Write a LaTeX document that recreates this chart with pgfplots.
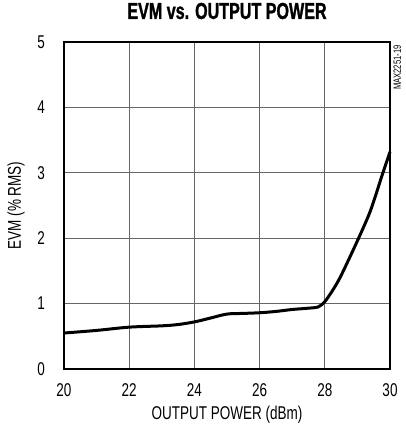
\documentclass[border=0pt]{standalone}
\usepackage{fontspec}
\setmainfont{Liberation Sans}[FakeStretch=0.73]
\newfontfamily\titlefont{Liberation Sans Bold}[FakeStretch=0.70, FakeBold=1.2]
\usepackage{pgfplots}
\pgfplotsset{compat=1.18}
\begin{document}
\begin{tikzpicture}[x=1pt,y=1pt]
\useasboundingbox (0,0) rectangle (405,431);
\begin{axis}[
  at={(64pt,62pt)}, anchor=south west,
  scale only axis, width=326pt, height=327pt,
  xmin=20, xmax=30, ymin=0, ymax=5,
  xtick={20,22,24,26,28,30}, ytick={0,1,2,3,4,5},
  grid=major,
  major grid style={black!60, line width=0.7pt},
  major tick length=0pt,
  axis line style={line width=2.4pt},
  tick label style={font=\fontsize{18.5}{22}\selectfont},
  /pgf/number format/assume math mode=true,
  xticklabel style={anchor=north, inner sep=0pt, yshift=-14pt},
  yticklabel style={anchor=east, inner sep=0pt, xshift=-19pt},
  xlabel={OUTPUT POWER (dBm)},
  ylabel={EVM (\% RMS)},
  label style={font=\fontsize{18.5}{22}\selectfont},
  xlabel style={at={(axis description cs:0.5,-0.1407)}, anchor=center},
  ylabel style={at={(axis description cs:-0.147,0.5)}, anchor=center},
  title={EVM vs. OUTPUT POWER},
  title style={at={(axis description cs:0.5,1)}, anchor=center, yshift=25pt, font=\titlefont\fontsize{23}{27}\selectfont},
  clip=false,
]
\addplot[black, line width=3pt, smooth, tension=0.5] coordinates {
  (20,0.55) (21,0.59) (22,0.64) (23,0.66) (23.5,0.68) (24,0.72) (24.5,0.78)
  (25,0.84) (25.5,0.85) (26,0.86) (26.5,0.88) (27,0.91) (27.5,0.93) (27.8,0.95)
  (28.0,1.03) (28.25,1.21) (28.5,1.43) (29,1.96) (29.4,2.42) (29.75,2.95) (30,3.32)
};
\node[rotate=90, font=\fontsize{10.5}{12}\selectfont, inner sep=0pt] at (axis description cs:1.022,0.922) {MAX2251-19};
\end{axis}
\end{tikzpicture}
\end{document}
